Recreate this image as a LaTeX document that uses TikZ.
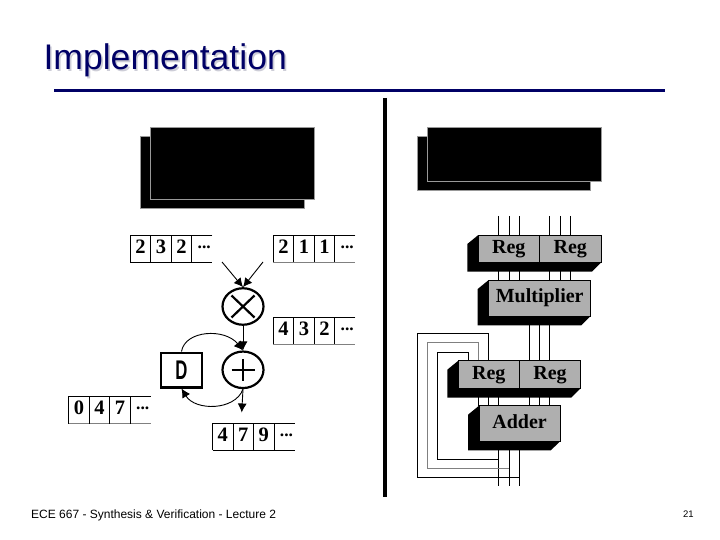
\documentclass[tikz,border=0pt]{standalone}
\usepackage{fontspec}
\setmainfont{Liberation Sans}
\newfontfamily\blockfont{Liberation Serif}
\usetikzlibrary{arrows.meta}
\usetikzlibrary{shapes.geometric}
\definecolor{titleblue}{RGB}{0,0,102}
\definecolor{shadowgray}{RGB}{205,205,215}
\definecolor{facegray}{RGB}{175,175,175}
\tikzset{
  titletext/.style={anchor=base west,inner sep=0,font=\fontsize{35.6}{40}\selectfont},
  slab/.style={fill=black,draw=gray!80,line width=.8,inner sep=0},
  digit/.style={anchor=base,inner sep=0,font=\blockfont\bfseries\fontsize{20.5}{22}\selectfont},
  thinedge/.style={draw=black,line width=.8},
  heavyedge/.style={draw=gray,line width=1.3},
  opcircle/.style={draw,ellipse,line width=2.2,minimum width=41,minimum height=36.5,inner sep=0},
  opline/.style={line width=2.2},
  bigtip/.style={-{Latex[length=9pt,width=9pt]},line width=.9},
  wire/.style={line width=.9},
  face/.style={draw=black,line width=.8,fill=facegray,inner sep=0,text height=13.5,text depth=4,
    font=\blockfont\bfseries\fontsize{20}{22}\selectfont},
}
\begin{document}
\begin{tikzpicture}[x=1pt,y=-1pt]
\useasboundingbox (0,0) rectangle (720,540);

%Title:
\node[titletext,text=shadowgray] (titleback) at (45,71.7) {Implementation};
\node[titletext,text=titleblue] (title) at (43.3,70) {Implementation};
\draw[titleblue,line width=2.5] (54,90.5) -- (665,90.5);
\draw[line width=4] (385,98) -- (385,497);

%Covered slabs:
\foreach \nm/\cx/\cy/\sw/\sh in {lbA/222.2/172/164/72, lbB/232.5/163.4/164.3/72.2, rbA/503.8/163/173/54, rbB/514.2/154.2/173.7/53.7}
  \node[slab,minimum width=\sw,minimum height=\sh] (\nm) at (\cx,\cy) {};

%Tapes:
\foreach \nm/\x/\y/\da/\db/\dc/\bs in {ta/130.3/235.3/2/3/2/thinedge, tb/273.3/235.3/2/1/1/heavyedge, tc/273.3/317.3/4/3/2/heavyedge, td/68.7/396.8/0/4/7/heavyedge, te/212.5/423.3/4/7/9/thinedge} {
  \draw[thinedge] (\x+82,\y) -- (\x,\y) -- (\x,\y+27);
  \draw[\bs] (\x,\y+27) -- (\x+82,\y+27);
  \foreach \i in {1,2,3}
    \draw[thinedge] (\x+20.5*\i,\y) -- (\x+20.5*\i,\y+27);
  \node[digit] (\nm1) at (\x+10.25,\y+18) {\da};
  \node[digit] (\nm2) at (\x+30.75,\y+18) {\db};
  \node[digit] (\nm3) at (\x+51.25,\y+18) {\dc};
  \node[digit,font=\blockfont\bfseries\fontsize{17.5}{20}\selectfont] (\nm4) at (\x+74,\y+13) {...};
}

%Datapath symbols:
\node[opcircle] (mul) at (243,306.5) {};
\node[opcircle] (add) at (243,369.8) {};
\node[draw,line width=2.5,minimum width=41,minimum height=34.5,inner sep=0,font=\bfseries\fontsize{27}{28}\selectfont] (delay) at (181.5,370) {\scalebox{.62}[1]{D}};
\draw[opline] (mul.center) ++(-11.5,-11) -- ++(23,22);
\draw[opline] (mul.center) ++(11.5,-11) -- ++(-23,22);
\draw[opline] (add.center) ++(-11.5,0) -- ++(23,0);
\draw[opline] (add.center) ++(0,-11) -- ++(0,22);

\coordinate (inA) at (222,262);
\coordinate (inB) at (263,262);
\coordinate (outp) at (241.7,412.5);
\draw[bigtip] (inA) -- (mul.north);
\draw[bigtip] (inB) -- (mul.north);
\draw[bigtip] (mul.south) -- (add.north);
\draw[bigtip] (delay.north) .. controls (185,330) and (225,328) .. (add.north);
\draw[bigtip] (add.south) .. controls (235,411) and (195,411) .. (delay.south);
\draw[bigtip] (add.south) -- (outp);

%Wires go under the blocks:
\foreach \x in {498.7,509,519.3,549.7,560,570.3}
  \draw[wire] (\x,216) -- (\x,280);
\foreach \x in {529.3,539.3,549.7}
  \draw[wire] (\x,316) -- (\x,361);
\foreach \x in {478.7,488.7,498.7,529.3,539.3,549.7}
  \draw[wire] (\x,388) -- (\x,406);
\foreach \x in {498.7,509,519.3}
  \draw[wire] (\x,441) -- (\x,485.7);

%Feedback:
\draw[wire] (519.3,441) -- (519.3,477) -- (417.3,477) -- (417.3,333.7) -- (488.7,333.7) -- (488.7,361);
\draw[wire,gray,line width=1.3] (509,468.7) -- (427.3,468.7) -- (427.3,342.7) -- (478.7,342.7) -- (478.7,361);
\draw[wire] (498.7,459.3) -- (437.3,459.3) -- (437.3,352.3) -- (468.7,352.3) -- (468.7,361);

%Blocks:
\foreach \xa/\ya/\xb/\yb in {478.3/235/601.3/262.3, 488.7/280/590.7/316, 458.3/360.7/580.7/388.3, 479/405.7/560.3/441}
  \fill (\xa,\ya) -- (\xa-11,\ya+9) -- (\xa-11,\yb+9.4) -- (\xb-9.5,\yb+9.4) -- (\xb,\yb) -- cycle;

\node[face,minimum width=61,minimum height=27.3] (regA) at (508.8,248.6) {Reg};
\node[face,minimum width=62,minimum height=27.3] (regB) at (570.3,248.6) {Reg};
\node[face,minimum width=102,minimum height=36] (mult) at (539.7,298) {Multiplier};
\node[face,minimum width=61,minimum height=27.6] (regC) at (488.8,374.5) {Reg};
\node[face,minimum width=61.4,minimum height=27.6] (regD) at (550,374.5) {Reg};
\node[face,minimum width=81.3,minimum height=35.3] (adder) at (519.6,423.3) {Adder};

%Footer:
\node[anchor=base west,inner sep=0,font=\fontsize{12}{14}\selectfont] (foot) at (31,518) {ECE 667 - Synthesis \& Verification - Lecture 2};
\node[anchor=base west,inner sep=0,font=\fontsize{9.5}{11}\selectfont] (pagenum) at (683,517) {21};

\end{tikzpicture}
\end{document}
